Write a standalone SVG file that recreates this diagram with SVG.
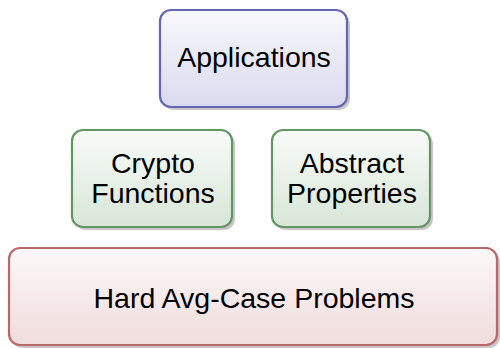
<svg xmlns="http://www.w3.org/2000/svg" width="500" height="348" viewBox="0 0 500 348">
<defs>
<linearGradient id="gP" x1="0" y1="0" x2="0" y2="1"><stop offset="0" stop-color="#f8f8fc"/><stop offset="1" stop-color="#dadaee"/></linearGradient>
<linearGradient id="gG" x1="0" y1="0" x2="0" y2="1"><stop offset="0" stop-color="#f8fbf8"/><stop offset="1" stop-color="#d8e6d8"/></linearGradient>
<linearGradient id="gR" x1="0" y1="0" x2="0" y2="1"><stop offset="0" stop-color="#fcf8f8"/><stop offset="1" stop-color="#f0dcdc"/></linearGradient>
</defs>
<style>
.sh{fill:#000;fill-opacity:0.22;stroke:none}
.b{stroke-width:2.2}
.p{fill:url(#gP);stroke:#6565b5}
.g{fill:url(#gG);stroke:#659565}
.r{fill:url(#gR);stroke:#b86868}
text{font-family:"Liberation Sans",Arial,sans-serif;font-size:28.5px;fill:#000;text-anchor:middle}
</style>
<g id="connectors"></g>
<g id="applications">
<rect class="sh" x="163" y="13" width="187" height="97" rx="11"/>
<rect class="b p" x="160" y="10" width="187" height="97" rx="11"/>
<text x="254" y="67">Applications</text>
</g>
<g id="crypto">
<rect class="sh" x="75" y="133" width="160" height="97" rx="11"/>
<rect class="b g" x="72" y="130" width="160" height="97" rx="11"/>
<text x="153" y="173">Crypto</text>
<text x="153" y="203">Functions</text>
</g>
<g id="abstract">
<rect class="sh" x="275" y="133" width="158" height="97" rx="11"/>
<rect class="b g" x="272" y="130" width="158" height="97" rx="11"/>
<text x="352" y="173">Abstract</text>
<text x="352" y="203">Properties</text>
</g>
<g id="hard">
<rect class="sh" x="12" y="251" width="488" height="97" rx="11"/>
<rect class="b r" x="9" y="248" width="488" height="97" rx="11"/>
<text x="254" y="308">Hard Avg-Case Problems</text>
</g>
</svg>
